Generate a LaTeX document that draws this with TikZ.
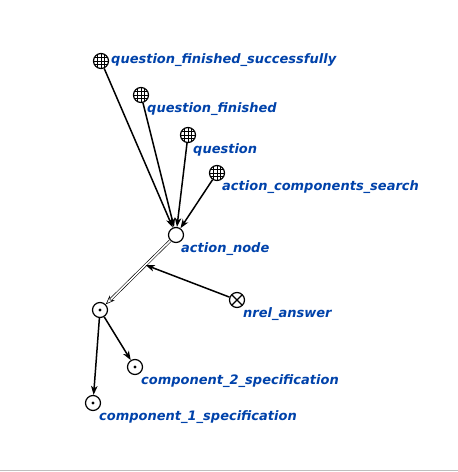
\documentclass[tikz,border=0pt]{standalone}
\usepackage{fontspec}
\setmainfont{DejaVu Sans}
\usetikzlibrary{arrows.meta,calc}
\definecolor{lbl}{RGB}{0,66,170}
\tikzset{
  base/.style={circle,draw,line width=1.2pt,minimum size=15pt,inner sep=0pt},
  gridnode/.style={base,path picture={
     \foreach \d in {-3.5,0,3.5}{
       \draw[line width=0.7pt] ([xshift=\d pt]path picture bounding box.north) -- ([xshift=\d pt]path picture bounding box.south);
       \draw[line width=0.7pt] ([yshift=\d pt]path picture bounding box.west) -- ([yshift=\d pt]path picture bounding box.east);}}},
  plainnode/.style={base},
  tuplenode/.style={base,path picture={\fill (path picture bounding box.center) circle (1.6pt);}},
  relnode/.style={base,path picture={
     \draw[line width=1.2pt] (path picture bounding box.north west) -- (path picture bounding box.south east);
     \draw[line width=1.2pt] (path picture bounding box.north east) -- (path picture bounding box.south west);}},
  lab/.style={anchor=west,text=lbl,font=\bfseries\itshape\fontsize{13}{15}\selectfont,inner sep=0pt},
  arc/.style={line width=1.5pt,-{Stealth[length=9pt,width=6.5pt,inset=2.5pt]}},
  dbl/.style={double,double distance=1.6pt,line width=0.6pt,-{Stealth[length=9pt,width=7pt,inset=2.5pt,open,fill=white]}}
}
\begin{document}
\begin{tikzpicture}[x=1pt,y=-1pt]
\useasboundingbox (0,0) rectangle (458,472);
\draw[gray!50,line width=1pt] (0,470.5) -- (458,470.5);
\node[gridnode] (qfs) at (101,61) {};
\node[gridnode] (qf) at (141,95) {};
\node[gridnode] (q) at (188,135) {};
\node[gridnode] (acs) at (217,173) {};
\node[plainnode] (an) at (176,235) {};
\node[relnode] (nrel) at (237,300) {};
\node[tuplenode] (tup) at (100,310) {};
\node[tuplenode] (c2) at (135,367) {};
\node[tuplenode] (c1) at (93,403) {};
\node[lab] (lqfs) at (111,60.5) {question\_finished\_successfully};
\node[lab] (lqf) at (147,109.5) {question\_finished};
\node[lab] (lq) at (193,149.5) {question};
\node[lab] (lacs) at (222,187.5) {action\_components\_search};
\node[lab] (lan) at (181,249.5) {action\_node};
\node[lab] (lnrel) at (243,314.5) {nrel\_answer};
\node[lab] (lc2) at (141,381.5) {component\_2\_specification};
\node[lab] (lc1) at (99,417.5) {component\_1\_specification};
\draw[arc] (qfs) -- (an);
\draw[arc] (qf) -- (an);
\draw[arc] (q) -- (an);
\draw[arc] (acs) -- (an);
\draw[dbl] (an) -- (tup);
\coordinate (mid) at ($(an)!0.4!(tup)$);
\draw[arc] (nrel) -- (mid);
\draw[arc] (tup) -- (c2);
\draw[arc] (tup) -- (c1);
\end{tikzpicture}
\end{document}
